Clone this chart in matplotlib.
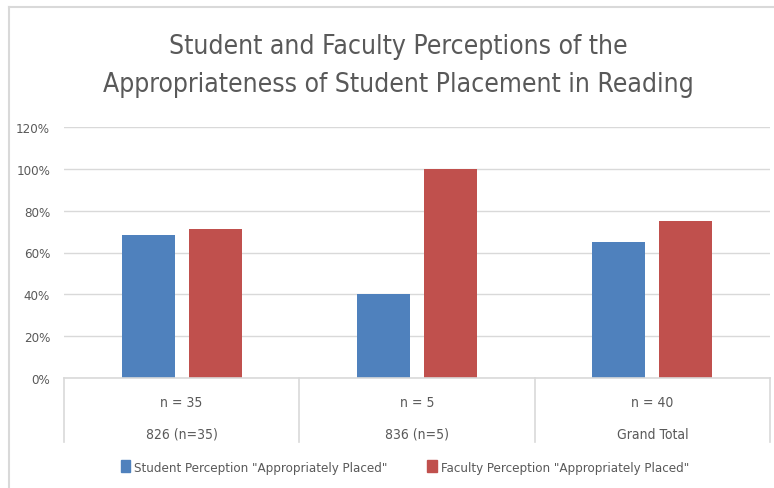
import numpy as np
import matplotlib
matplotlib.use("Agg")
import matplotlib.pyplot as plt
from matplotlib.lines import Line2D
from matplotlib.patches import Rectangle

plt.rcParams['font.family'] = ['DejaVu Sans']
plt.rcParams['font.stretch'] = 'condensed'

categories = ["826 (n=35)", "836 (n=5)", "Grand Total"]
n_labels = ["n = 35", "n = 5", "n = 40"]
student = [0.686, 0.40, 0.65]
faculty = [0.714, 1.00, 0.75]
series_names = ['Student Perception "Appropriately Placed"',
                'Faculty Perception "Appropriately Placed"']

BLUE = "#4F81BD"
RED = "#C0504D"
GRID = "#D9D9D9"
TXT = "#595959"

W, H = 774, 489
fig = plt.figure(figsize=(W / 100, H / 100), dpi=100)
ax = fig.add_axes([64 / W, 1 - 379 / H, (770 - 64) / W, (379 - 128) / H])

x = np.arange(len(categories))
bw = 0.225
off = 0.142
ax.bar(x - off, student, bw, color=BLUE, zorder=3)
ax.bar(x + off, faculty, bw, color=RED, zorder=3)

ax.set_xlim(-0.5, len(categories) - 0.5)
ax.set_ylim(0, 1.2)
ax.set_yticks(np.arange(0, 1.21, 0.2))
ax.set_yticklabels([f"{int(round(v * 100))}%" for v in np.arange(0, 1.21, 0.2)],
                   color=TXT, fontsize=9.5)
ax.tick_params(axis="y", length=0, pad=10)
ax.set_xticks([])
ax.grid(axis="y", color=GRID, lw=1, zorder=0)
for s in ax.spines.values():
    s.set_visible(False)

# table-style category axis
tr = ax.get_xaxis_transform()
bot = -(443 - 379) / (379 - 128)
ax.plot([-0.5, len(categories) - 0.5], [0, 0], transform=tr, color=GRID, lw=1.2,
        clip_on=False, zorder=4)
for b in np.arange(-0.5, len(categories), 1.0):
    ax.plot([b, b], [0, bot], transform=tr, color=GRID, lw=1.2, clip_on=False)
for i in range(len(categories)):
    ax.text(x[i], -(403 - 379) / 251, n_labels[i], transform=tr, ha="center",
            va="center", color=TXT, fontsize=10)
    ax.text(x[i], -(435 - 379) / 251, categories[i], transform=tr, ha="center",
            va="center", color=TXT, fontsize=10)

fig.text(398 / W, 1 - 66 / H,
         "Student and Faculty Perceptions of the\nAppropriateness of Student Placement in Reading",
         ha="center", va="center", color=TXT, fontsize=19, linespacing=1.6)

# legend
handles = [Rectangle((0, 0), 1, 1, color=BLUE), Rectangle((0, 0), 1, 1, color=RED)]
fig.legend(handles, series_names, loc="center", bbox_to_anchor=(405 / W, 1 - 468 / H),
           ncol=2, frameon=False, fontsize=9.5, handlelength=0.7, handleheight=1.0,
           handletextpad=0.3, columnspacing=3.0, labelcolor=TXT)

# chart border (top and left)
fig.add_artist(Line2D([9 / W, 773 / W], [1 - 8 / H, 1 - 8 / H], color=GRID, lw=1.5))
fig.add_artist(Line2D([9 / W, 9 / W], [1 - 8 / H, 0], color=GRID, lw=1.5))

fig.savefig("out.png", dpi=100)
